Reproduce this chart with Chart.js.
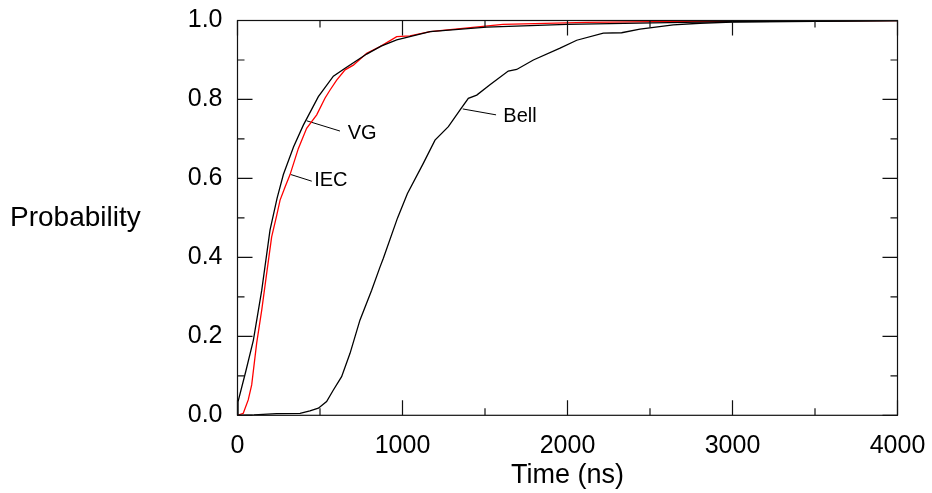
<!DOCTYPE html>
<html lang="en">
<head>
  <meta charset="UTF-8" />
  <title>Probability vs time</title>
  <script src="https://cdn.jsdelivr.net/npm/chart.js"></script>
  <style>
    html, body {
      margin: 0;
      padding: 0;
      background: #fff;
    }
    #wrap {
      width: 932px;
      height: 493px;
      position: relative;
    }
  </style>
</head>
<body>
  <div id="wrap"><canvas id="chart"></canvas></div>

  <script>
    // curves (time in ns, cumulative probability)
    const vgTime = [0, 3, 50, 96, 147, 197, 240, 278, 340, 399, 490, 581, 652, 783, 870, 965, 1167, 1510, 1995, 2518, 3000, 4000];
    const vgProb = [0, 0.034, 0.111, 0.19, 0.317, 0.469, 0.55, 0.61, 0.68, 0.735, 0.807, 0.859, 0.879, 0.915, 0.935, 0.951, 0.972, 0.983, 0.99, 0.994, 0.997, 1.0];

    const iecTime = [0, 35, 65, 86, 116, 147, 177, 207, 238, 258, 290, 318, 369, 419, 480, 530, 561, 601, 652, 702, 783, 864, 965, 1045, 1167, 1609, 2116, 2641, 3000, 4000];
    const iecProb = [0, 0.005, 0.039, 0.077, 0.182, 0.267, 0.36, 0.452, 0.507, 0.545, 0.58, 0.609, 0.676, 0.727, 0.761, 0.803, 0.824, 0.849, 0.875, 0.887, 0.917, 0.934, 0.959, 0.961, 0.972, 0.99, 0.995, 0.998, 0.998, 1.0];

    const bellTime = [0, 100, 237, 379, 439, 490, 540, 581, 631, 682, 742, 813, 864, 884, 970, 1030, 1126, 1197, 1278, 1348, 1399, 1450, 1530, 1641, 1692, 1793, 1955, 2056, 2217, 2328, 2439, 2641, 2803, 3000, 3500, 4000];
    const bellProb = [0, 0.001, 0.004, 0.005, 0.011, 0.018, 0.035, 0.064, 0.098, 0.157, 0.241, 0.317, 0.376, 0.398, 0.5, 0.562, 0.638, 0.697, 0.731, 0.773, 0.803, 0.811, 0.837, 0.872, 0.876, 0.9, 0.93, 0.95, 0.968, 0.969, 0.978, 0.989, 0.993, 0.996, 0.998, 1.0];

    // curve names and their leader lines
    const labelNames = ['VG', 'IEC', 'Bell'];
    const labelTime = [668, 465, 1611];
    const labelProb = [0.714, 0.596, 0.758];
    const leaderTime = [[419, 621], [322, 450], [1365, 1567]];
    const leaderProb = [[0.746, 0.72], [0.610, 0.593], [0.776, 0.761]];

    const xMin = 0, xMax = 4000, xStep = 1000;
    const yMin = 0, yMax = 1, yStep = 0.2;

    const FONT = '"Liberation Sans", Arial, sans-serif';

    const toPoints = (xs, ys) => xs.map((x, i) => ({ x: x, y: ys[i] }));

    const curve = (label, xs, ys, color) => ({
      label: label,
      data: toPoints(xs, ys),
      borderColor: color,
      borderWidth: 1.3,
      pointRadius: 0,
      showLine: true,
      tension: 0,
      fill: false
    });

    const datasets = [
      curve('Bell', bellTime, bellProb, '#000'),
      curve('VG', vgTime, vgProb, '#000'),
      curve('IEC', iecTime, iecProb, '#ff0000')
    ];
    leaderTime.forEach((xs, i) => {
      const d = curve(labelNames[i] + ' leader', xs, leaderProb[i], '#000');
      d.borderWidth = 1;
      datasets.push(d);
    });

    // frame with inward ticks on all four sides, plus curve names
    const frameTicks = {
      id: 'frameTicks',
      afterDatasetsDraw(chart) {
        const { ctx, chartArea: a, scales: { x, y } } = chart;
        ctx.save();
        ctx.strokeStyle = '#111';
        ctx.lineWidth = 1.2;
        ctx.strokeRect(a.left, a.top, a.right - a.left, a.bottom - a.top);
        ctx.beginPath();
        for (let v = xMin; v <= xMax; v += xStep / 2) {
          const px = x.getPixelForValue(v);
          const len = v % xStep === 0 ? 15 : 7;
          ctx.moveTo(px, a.bottom); ctx.lineTo(px, a.bottom - len);
          ctx.moveTo(px, a.top); ctx.lineTo(px, a.top + len);
        }
        for (let i = 0; i <= Math.round((yMax - yMin) / (yStep / 2)); i++) {
          const v = yMin + i * yStep / 2;
          const py = y.getPixelForValue(v);
          const len = i % 2 === 0 ? 15 : 7;
          ctx.moveTo(a.left, py); ctx.lineTo(a.left + len, py);
          ctx.moveTo(a.right, py); ctx.lineTo(a.right - len, py);
        }
        ctx.stroke();

        ctx.fillStyle = '#000';
        ctx.font = '20px ' + FONT;
        ctx.textAlign = 'left';
        ctx.textBaseline = 'middle';
        labelNames.forEach((name, i) => {
          ctx.fillText(name, x.getPixelForValue(labelTime[i]), y.getPixelForValue(labelProb[i]));
        });

        // y-axis title sits horizontally left of the plot
        ctx.font = '28px ' + FONT;
        ctx.fillText('Probability', 10, (a.top + a.bottom) / 2);
        ctx.restore();
      }
    };

    new Chart(document.getElementById('chart').getContext('2d'), {
      type: 'scatter',
      data: { datasets: datasets },
      plugins: [frameTicks],
      options: {
        responsive: true,
        maintainAspectRatio: false,
        animation: false,
        devicePixelRatio: 1,
        layout: { padding: { top: 20.5, right: 34.5, left: 0, bottom: 0 } },
        plugins: {
          legend: { display: false },
          tooltip: { enabled: false }
        },
        scales: {
          x: {
            type: 'linear',
            min: xMin,
            max: xMax,
            grid: { display: false, drawTicks: true, tickLength: 15 },
            border: { display: false },
            ticks: {
              stepSize: xStep,
              color: '#000',
              padding: 1,
              maxRotation: 0,
              callback: v => String(v),
              font: { family: FONT, size: 25 }
            },
            title: {
              display: true,
              text: 'Time (ns)',
              color: '#000',
              padding: { top: 0, bottom: 1 },
              font: { family: FONT, size: 27 }
            },
            afterFit: s => { s.height = 77.7; }
          },
          y: {
            min: yMin,
            max: yMax,
            grid: { display: false, drawTicks: true, tickLength: 14 },
            border: { display: false },
            ticks: {
              stepSize: yStep,
              color: '#000',
              padding: 1,
              callback: v => v.toFixed(1),
              font: { family: FONT, size: 25 }
            },
            afterFit: s => { s.width = 237.5; }
          }
        }
      }
    });
  </script>
</body>
</html>
